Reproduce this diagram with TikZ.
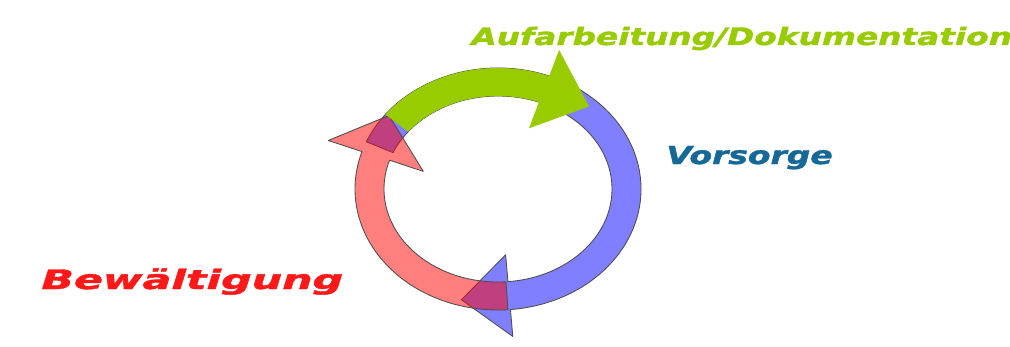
\documentclass[tikz,border=0pt]{standalone}
\usepackage{fontspec}
\usepackage{tikz}
\usepackage{xcolor}
\usetikzlibrary{calc}
\setmainfont{DejaVu Sans}
\newfontfamily\phasefont{DejaVu Sans}[FakeBold=1.4]

\definecolor{cyclegreen}{RGB}{153,204,0}
\definecolor{cycleblue}{RGB}{0,0,255}
\definecolor{cyclered}{RGB}{255,0,0}
\definecolor{labelred}{RGB}{255,24,24}
\definecolor{labelblue}{RGB}{22,104,150}

\tikzset{
  phase/.style={inner sep=0pt, anchor=base west}
}

\begin{document}
\begin{tikzpicture}[x=0.025cm, y=-0.025cm]
	\useasboundingbox (0,0) rectangle (1010,347);
	\begin{scope}[shift={(498,189)}]
		% colour/fill opacity/outline/start/end/head width/head length
		\foreach \col/\alp/\edge/\ta/\tb/\headw/\headl in {cycleblue/0.5/black!70/203/445/41/1.17, cyclered/0.5/black!70/86/198/50/0.85, cyclegreen/1/none/218/291/42/1.15} {
			\pgfmathsetmacro\aout{128.5+\headw}
			\pgfmathsetmacro\bout{107+\headw}
			\pgfmathsetmacro\ain{128.5-\headw}
			\pgfmathsetmacro\bin{107-\headw}
			\coordinate (m) at (\tb:128.5 and 107);
			\coordinate (o) at (\tb:{\aout} and {\bout});
			\coordinate (i) at (\tb:{\ain} and {\bin});
			\coordinate (tip) at ($(m)!\headl!-90:(o)$);
			\draw[fill=\col, fill opacity=\alp, draw=\edge, line width=0.6pt, line join=round]
				(\ta:143 and 121) arc[start angle=\ta, end angle=\tb, x radius=143, y radius=121]
				-- (o) -- (tip) -- (i) -- (\tb:114 and 93)
				arc[start angle=\tb, end angle=\ta, x radius=114, y radius=93] -- cycle;
		};
	\end{scope}
	\node[phase, text=cyclegreen, xscale=1.37, font=\fontsize{17}{20}\selectfont\phasefont\bfseries\itshape] (aufarbeitung) at (471,45) {Aufarbeitung/Dokumentation};
	\node[phase, text=labelblue, xscale=1.33, font=\fontsize{17.6}{20}\selectfont\phasefont\bfseries\itshape] (vorsorge) at (666,164) {Vorsorge};
	\node[phase, text=labelred, xscale=1.6, font=\fontsize{19}{20}\selectfont\phasefont\bfseries\itshape] (bewaeltigung) at (41,289) {Bewältigung};
\end{tikzpicture}
\end{document}
